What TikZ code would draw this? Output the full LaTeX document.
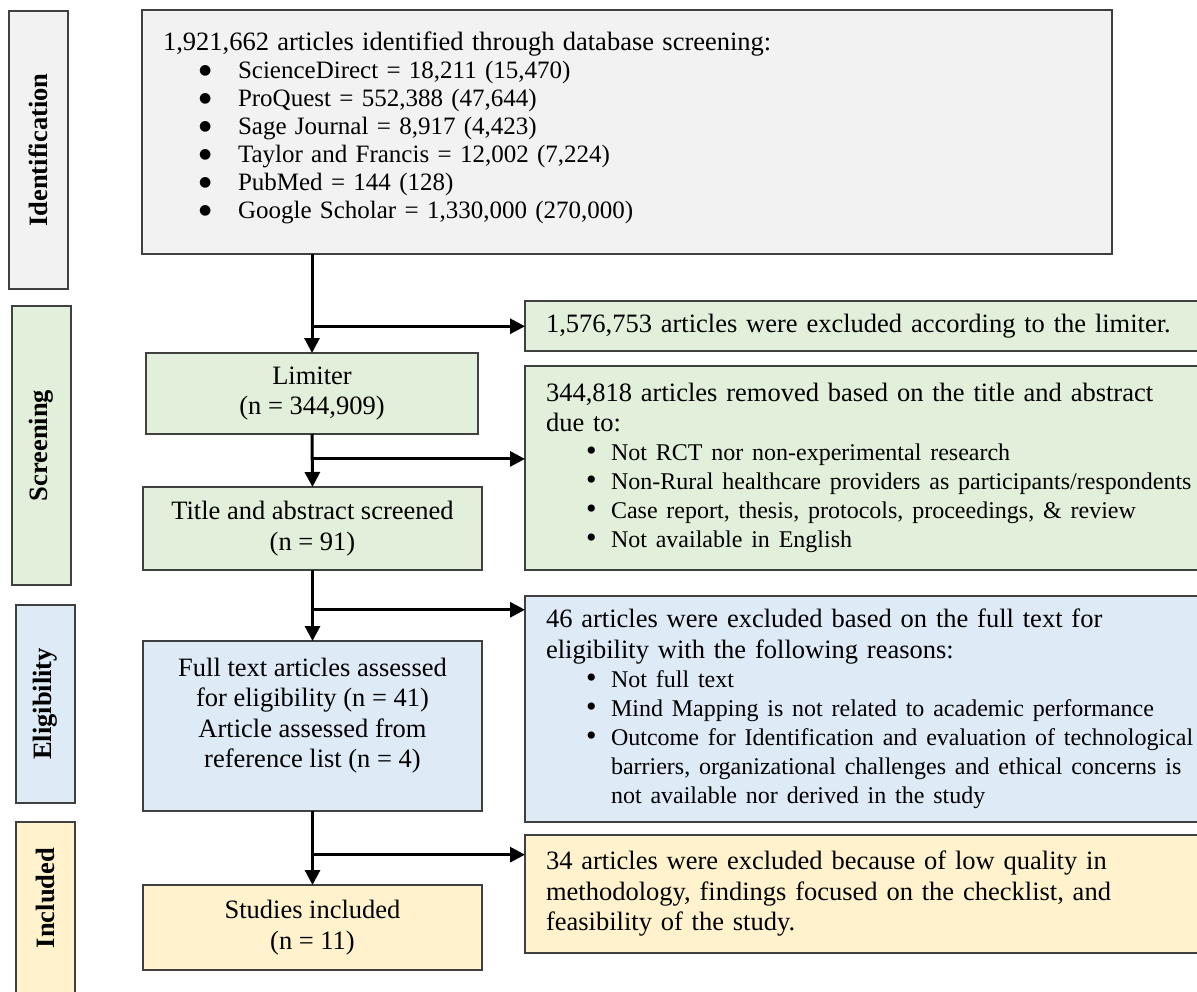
\documentclass[tikz,border=0pt]{standalone}
\usepackage{fontspec}
\setmainfont{Liberation Serif}
\newfontfamily\symfont{DejaVu Sans}
\usetikzlibrary{arrows.meta,calc}
\definecolor{cgray}{HTML}{F2F2F2}
\definecolor{cgreen}{HTML}{E2EFDA}
\definecolor{cblue}{HTML}{DEEAF6}
\definecolor{cyellow}{HTML}{FFF2CC}
\definecolor{cline}{HTML}{404040}
\newcommand\mainsz{\fontsize{26.5}{30.5}\selectfont}
\newcommand\smsz{\fontsize{24}{29}\selectfont}
\newcommand\topsz{\fontsize{25}{28}\selectfont}
\newcommand\rbul{\makebox[25pt][l]{\scalebox{1.25}{\textbullet}}}
\newcommand\ritem[1]{\mbox{\hspace*{40pt}\rbul#1}\par}
\newcommand\tbul{\makebox[39pt][l]{\raisebox{4pt}{\symfont\fontsize{14}{14}\selectfont ●}}}
\newcommand\titem[1]{\mbox{\hspace*{36pt}\tbul#1}\par}
\begin{document}
\begin{tikzpicture}[x=1pt,y=-1pt,
  box/.style={draw=cline, line width=1.5pt, inner sep=0pt, outer sep=0pt, anchor=north west},
  phase/.style={box, minimum width=59pt, font=\mainsz\bfseries},
  cbox/.style={box, align=center, font=\mainsz, minimum width=339pt},
  rbox/.style={box, inner xsep=21pt, text width=740pt, align=left, font=\mainsz\setlength\parindent{0pt}},
  arr/.style={line width=3pt, -{Triangle[length=15pt,width=15pt]}}]
\useasboundingbox (0,0) rectangle (1197,991);
\clip (0,0) rectangle (1197,991);

% phase labels
\node[phase, fill=cgray, minimum height=278pt] (pid) at (9,11) {\rotatebox{90}{Identification}};
\node[phase, fill=cgreen, minimum height=279pt] (psc) at (12,306) {\rotatebox{90}{Screening}};
\node[phase, fill=cblue, minimum height=198pt] (pel) at (16,605) {\rotatebox{90}{Eligibility}};
\node[phase, fill=cyellow, minimum height=180pt] (pin) at (16,822) {\rotatebox{90}{\hspace*{28pt}Included}};

% top box
\node[box, fill=cgray, minimum width=970pt, minimum height=244pt, inner xsep=21pt, text width=928pt, align=left, font=\topsz\setlength\parindent{0pt}] (top) at (142,10)
{{\mainsz\mbox{1,921,662 articles identified through database screening:}\par}
\titem{ScienceDirect = 18,211 (15,470)}
\titem{ProQuest = 552,388 (47,644)}
\titem{Sage Journal = 8,917 (4,423)}
\titem{Taylor and Francis = 12,002 (7,224)}
\titem{PubMed = 144 (128)}
\titem{Google Scholar = 1,330,000 (270,000)}
\vskip-14pt\mbox{}};

% centre column
\node[cbox, fill=cgreen, minimum width=332pt, minimum height=81pt] (lim) at (146,353) {Limiter\\(n = 344,909)};
\node[cbox, fill=cgreen, minimum height=83pt] (tit) at (143,487) {Title and abstract screened\\(n = 91)};
\node[cbox, fill=cblue, minimum height=170pt] (full) at (143,641) {Full text articles assessed\\for eligibility (n = 41)\\Article assessed from\\reference list (n = 4)\\[-4pt]\mbox{}};
\node[cbox, fill=cyellow, minimum height=85pt] (inc) at (143,885) {Studies included\\(n = 11)};

% right column
\node[rbox, fill=cgreen, minimum height=50pt] (ex1) at (525,301) {\mbox{1,576,753 articles were excluded according to the limiter.}};
\node[rbox, fill=cgreen, minimum height=204pt] (ex2) at (525,366)
{\mbox{344,818 articles removed based on the title and abstract}\\due to:\par
{\smsz
\ritem{Not RCT nor non-experimental research}
\ritem{Non-Rural healthcare providers as participants/respondents}
\ritem{Case report, thesis, protocols, proceedings, \& review}
\ritem{Not available in English}}};
\node[rbox, fill=cblue, minimum height=226pt] (ex3) at (525,596)
{\mbox{46 articles were excluded based on the full text for}\\\mbox{eligibility with the following reasons:}\par
{\smsz
\ritem{Not full text}
\ritem{Mind Mapping is not related to academic performance}
\ritem{Outcome for Identification and evaluation of technological}
\mbox{\hspace*{65pt}barriers, organizational challenges and ethical concerns is}\par
\mbox{\hspace*{65pt}not available nor derived in the study}\par}};
\node[rbox, fill=cyellow, minimum height=118pt] (ex4) at (525,835)
{\mbox{34 articles were excluded because of low quality in}\\\mbox{methodology, findings focused on the checklist, and}\\feasibility of the study.};

% connectors
\coordinate (s1) at (top.south -| lim.north);
\draw[arr] (s1) -- (lim.north);
\coordinate (b1) at ($(s1)!0.73!(lim.north)$);
\draw[arr] (b1) -- (b1 -| ex1.west);

\draw[arr] (lim.south) -- (tit.north);
\coordinate (b2) at ($(lim.south)!0.47!(tit.north)$);
\draw[arr] (b2) -- (b2 -| ex2.west);

\draw[arr] (tit.south) -- (full.north);
\coordinate (b3) at ($(tit.south)!0.56!(full.north)$);
\draw[arr] (b3) -- (b3 -| ex3.west);

\draw[arr] (full.south) -- (inc.north);
\coordinate (b4) at ($(full.south)!0.59!(inc.north)$);
\draw[arr] (b4) -- (b4 -| ex4.west);
\end{tikzpicture}
\end{document}
